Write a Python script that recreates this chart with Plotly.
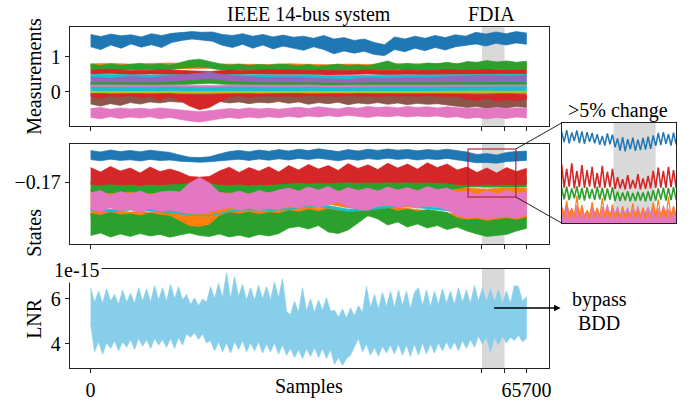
import numpy as np
import plotly.graph_objects as go

W, H = 699, 401
N_SAMPLES = 65700
FDIA = [59000, 62400]
X_TICKS = [0, 59000, 62400, 65700]
X_TICKTEXT = ["0", "", "", "65700"]
ZOOM_X = [54800, 64050]
ZOOM_Y = [-0.1775, -0.1535]
RECT_X = [56900, 64100]

# ---------------- top panel: measurements (upper / lower envelope) ----------------
meas_blue_hi = [1.63,1.57,1.64,1.59,1.62,1.56,1.65,1.60,1.66,1.68,1.71,1.69,1.70,1.63,1.60,1.65,1.58,1.63,1.56,1.61,1.55,1.58,
                1.52,1.60,1.50,1.54,1.46,1.50,1.40,1.34,1.56,1.50,1.58,1.52,1.60,1.54,1.62,1.58,1.69,1.64,1.70,1.65,1.71,1.67]
meas_blue_lo = [1.28,1.20,1.33,1.24,1.36,1.27,1.34,1.26,1.40,1.46,1.50,1.48,1.44,1.32,1.26,1.35,1.24,1.33,1.22,1.30,1.24,1.18,
                1.28,1.20,1.08,1.16,1.10,1.15,1.06,1.03,1.20,1.14,1.24,1.17,1.26,1.19,1.28,1.32,1.36,1.30,1.38,1.33,1.39,1.35]
meas_orange_hi = [0.80,0.81,0.79,0.80,0.82,0.80,0.79,0.80,0.79,0.78,0.80,0.79,0.77,0.79,0.78,0.80,0.79,0.80,0.81,0.80,0.79,0.80,0.80]
meas_orange_lo = [0.68,0.69,0.67,0.68,0.68,0.66,0.68,0.69,0.67,0.68,0.66,0.67,0.66,0.67,0.68,0.67,0.68,0.67,0.68,0.69,0.68,0.67,0.68]
meas_green_hi = [0.79,0.75,0.80,0.76,0.78, 0.81,0.77,0.80,0.76,0.84, 0.90,0.93,0.86,0.80,0.76, 0.79,0.75,0.78,0.76,0.79,
                 0.77,0.74,0.78,0.73,0.76, 0.79,0.75,0.77,0.74,0.80, 0.88,0.78,0.81,0.77,0.82, 0.80,0.84,0.79,0.86,0.84,
                 0.89,0.85,0.88,0.84,0.87]
meas_green_lo = [0.63,0.60,0.64,0.61,0.63, 0.62,0.64,0.61,0.63,0.66, 0.69,0.71,0.68,0.63,0.61, 0.63,0.60,0.62,0.61,0.63,
                 0.61,0.59,0.62,0.58,0.61, 0.60,0.62,0.59,0.61,0.62, 0.60,0.63,0.61,0.62,0.60, 0.63,0.61,0.64,0.62,0.64,
                 0.63,0.65,0.62,0.64,0.63]
meas_red_hi = [0.62,0.64,0.61,0.62,0.63,0.60,0.58,0.62,0.61,0.63,0.62,0.61,0.60,0.61,0.62,0.60,0.62,0.61,0.63,0.62,0.64,0.62,0.63]
meas_red_lo = [0.50,0.52,0.49,0.51,0.49,0.48,0.46,0.49,0.51,0.50,0.49,0.50,0.48,0.49,0.51,0.49,0.50,0.49,0.50,0.51,0.50,0.51,0.50]
meas_cyan_hi = [0.50,0.49,0.50,0.48,0.49,0.48,0.47,0.49,0.48,0.49,0.48,0.49,0.46,0.47,0.48,0.49,0.48,0.48,0.49,0.50,0.49,0.50,0.50]
meas_cyan_lo = [0.38,0.37,0.38,0.36,0.37,0.36,0.35,0.37,0.36,0.37,0.36,0.37,0.34,0.35,0.36,0.37,0.36,0.36,0.37,0.38,0.37,0.38,0.38]
meas_purple_hi = [0.42,0.39,0.44,0.40,0.45,0.50,0.56,0.46,0.43,0.40,0.42,0.39,0.38,0.35,0.40,0.38,0.41,0.40,0.43,0.46,0.48,0.45,0.47]
meas_purple_lo = [0.22,0.19,0.23,0.20,0.22,0.24,0.28,0.24,0.21,0.23,0.20,0.21,0.18,0.16,0.20,0.18,0.20,0.19,0.21,0.22,0.24,0.21,0.23]
meas_green2_hi = [0.27,0.26,0.27,0.26,0.28,0.33,0.36,0.30,0.27,0.26,0.27,0.26,0.25,0.25,0.26,0.26,0.27,0.26,0.27,0.27,0.28,0.27,0.27]
meas_green2_lo = [0.19,0.18,0.19,0.18,0.19,0.22,0.25,0.21,0.19,0.18,0.19,0.18,0.17,0.17,0.18,0.18,0.19,0.18,0.19,0.19,0.20,0.19,0.19]
meas_pink_hi = [0.20,0.19,0.20,0.19,0.20,0.19,0.18,0.20,0.19,0.20,0.19,0.20,0.18,0.19,0.19,0.20,0.19,0.20,0.19,0.20,0.20,0.19,0.20]
meas_pink_lo = [0.11,0.10,0.11,0.10,0.11,0.10,0.09,0.11,0.10,0.11,0.10,0.11,0.09,0.10,0.10,0.11,0.10,0.11,0.10,0.11,0.11,0.10,0.11]
meas_cyan2_hi = [0.14,0.13,0.14,0.13,0.14,0.13,0.12,0.14,0.13,0.14,0.13,0.14,0.12,0.13,0.13,0.14,0.13,0.14,0.14,0.15,0.15,0.15,0.15]
meas_cyan2_lo = [0.02,0.01,0.02,0.01,0.02,0.01,0.00,0.02,0.01,0.02,0.01,0.02,0.00,0.01,0.01,0.02,0.01,0.02,0.02,0.02,0.02,0.02,0.02]
meas_olive_hi = [0.02,0.01,0.02,0.01,0.02,0.01,0.01,0.02,0.01,0.02,0.01,0.02,0.01,0.01,0.02,0.01,0.02,0.01,0.02,0.03,0.03,0.02,0.03]
meas_olive_lo = [-0.03,-0.03,-0.02,-0.03,-0.03,-0.02,-0.03,-0.03,-0.02,-0.03,-0.03,-0.02,-0.03,-0.03,-0.02,-0.03,-0.03,-0.02,-0.03,-0.03,-0.02,-0.03,-0.03]
meas_gray_hi = [-0.02,-0.03,-0.02,-0.02,-0.03,-0.02,-0.02,-0.03,-0.02,-0.03,-0.02,-0.03,-0.02,-0.03,-0.02,-0.03,-0.02,-0.03,-0.02,-0.03,-0.02,-0.03,-0.02]
meas_gray_lo = [-0.06,-0.06,-0.07,-0.06,-0.08,-0.12,-0.13,-0.09,-0.06,-0.07,-0.06,-0.06,-0.07,-0.06,-0.06,-0.07,-0.06,-0.06,-0.07,-0.06,-0.07,-0.06,-0.06]
meas_brown_hi = [-0.08,-0.09,-0.08,-0.10,-0.08, -0.09,-0.08,-0.10,-0.09,-0.10, -0.11,-0.12,-0.10,-0.09,-0.08, -0.09,-0.08,-0.10,-0.08,-0.09,
                 -0.08,-0.10,-0.08,-0.09,-0.08, -0.09,-0.08,-0.10,-0.08,-0.09, -0.08,-0.09,-0.08,-0.10,-0.09, -0.08,-0.10,-0.09,-0.11,-0.10,
                 -0.12,-0.10,-0.11,-0.10,-0.11]
meas_brown_lo = [-0.34,-0.40,-0.33,-0.38,-0.30, -0.34,-0.28,-0.31,-0.27,-0.29, -0.26,-0.28,-0.30,-0.27,-0.31, -0.28,-0.33,-0.29,-0.31,-0.27,
                 -0.32,-0.28,-0.35,-0.30,-0.33, -0.29,-0.36,-0.31,-0.34,-0.30, -0.35,-0.31,-0.36,-0.32,-0.35, -0.33,-0.38,-0.40,-0.44,-0.41,
                 -0.46,-0.42,-0.45,-0.41,-0.44]
meas_red2_hi = [-0.05,-0.04,-0.06,-0.05,-0.04, -0.05,-0.06,-0.05,-0.04,-0.07, -0.08,-0.09,-0.08,-0.06,-0.05, -0.04,-0.05,-0.06,-0.05,-0.04,
                -0.05,-0.04,-0.06,-0.05,-0.04, -0.05,-0.06,-0.04,-0.05,-0.05, -0.04,-0.06,-0.05,-0.04,-0.05, -0.06,-0.05,-0.04,-0.06,-0.07,
                -0.06,-0.07,-0.05,-0.06,-0.07]
meas_red2_lo = [-0.12,-0.18,-0.11,-0.14,-0.10, -0.16,-0.12,-0.22,-0.13,-0.24, -0.40,-0.50,-0.44,-0.28,-0.14, -0.11,-0.15,-0.12,-0.10,-0.13,
                -0.11,-0.14,-0.10,-0.12,-0.11, -0.13,-0.10,-0.12,-0.11,-0.14, -0.10,-0.12,-0.11,-0.13,-0.10, -0.12,-0.14,-0.12,-0.20,-0.24,
                -0.18,-0.26,-0.22,-0.25,-0.20]
meas_pink2_hi = [-0.47,-0.44,-0.49,-0.45,-0.48, -0.46,-0.49,-0.45,-0.48,-0.50, -0.54,-0.56,-0.53,-0.50,-0.47, -0.49,-0.45,-0.48,-0.46,-0.49,
                 -0.45,-0.43,-0.47,-0.42,-0.45, -0.48,-0.43,-0.46,-0.41,-0.44, -0.42,-0.45,-0.41,-0.44,-0.42, -0.45,-0.42,-0.44,-0.47,-0.45,
                 -0.48,-0.44,-0.47,-0.45,-0.46]
meas_pink2_lo = [-0.72,-0.76,-0.70,-0.75,-0.71, -0.74,-0.70,-0.76,-0.72,-0.78, -0.82,-0.85,-0.80,-0.76,-0.72, -0.75,-0.71,-0.74,-0.70,-0.73,
                 -0.69,-0.72,-0.68,-0.71,-0.67, -0.70,-0.66,-0.69,-0.72,-0.68, -0.70,-0.67,-0.71,-0.68,-0.70, -0.68,-0.72,-0.70,-0.75,-0.72,
                 -0.76,-0.72,-0.75,-0.71,-0.74]

# ---------------- middle panel: states ----------------
st_blue_hi = [-0.1543,-0.1550,-0.1540,-0.1548,-0.1542, -0.1549,-0.1541,-0.1547,-0.1552,-0.1565, -0.1576,-0.1578,-0.1574,-0.1560,-0.1548,
              -0.1542,-0.1549,-0.1540,-0.1546,-0.1538, -0.1545,-0.1536,-0.1543,-0.1534,-0.1542, -0.1548,-0.1538,-0.1545,-0.1536,-0.1542,
              -0.1535,-0.1541,-0.1537,-0.1544,-0.1538, -0.1542,-0.1536,-0.1544,-0.1550,-0.1562, -0.1558,-0.1565,-0.1552,-0.1548,-0.1545]
st_blue_lo = [-0.1588,-0.1594,-0.1586,-0.1592,-0.1589, -0.1595,-0.1587,-0.1593,-0.1590,-0.1596, -0.1600,-0.1601,-0.1599,-0.1595,-0.1590,
              -0.1586,-0.1592,-0.1585,-0.1591,-0.1584, -0.1590,-0.1582,-0.1588,-0.1581,-0.1589, -0.1594,-0.1585,-0.1591,-0.1583,-0.1588,
              -0.1581,-0.1587,-0.1583,-0.1590,-0.1584, -0.1588,-0.1582,-0.1590,-0.1596,-0.1604, -0.1602,-0.1606,-0.1598,-0.1594,-0.1592]
st_red_hi = [-0.1628,-0.1650,-0.1622,-0.1645,-0.1630, -0.1655,-0.1625,-0.1648,-0.1635,-0.1650, -0.1672,-0.1676,-0.1672,-0.1645,-0.1626,
             -0.1652,-0.1628,-0.1646,-0.1624,-0.1650, -0.1618,-0.1640,-0.1612,-0.1635,-0.1618, -0.1642,-0.1608,-0.1632,-0.1614,-0.1638,
             -0.1606,-0.1630,-0.1610,-0.1636,-0.1604, -0.1628,-0.1610,-0.1640,-0.1625,-0.1652, -0.1630,-0.1655,-0.1628,-0.1648,-0.1632]
st_red_lo = [-0.1712,-0.1716,-0.1710,-0.1714,-0.1712, -0.1716,-0.1711,-0.1714,-0.1710,-0.1708, -0.1704,-0.1706,-0.1705,-0.1712,-0.1714,
             -0.1711,-0.1715,-0.1712,-0.1714,-0.1710, -0.1705,-0.1702,-0.1706,-0.1703,-0.1705, -0.1702,-0.1700,-0.1704,-0.1701,-0.1703,
             -0.1700,-0.1702,-0.1700,-0.1703,-0.1701, -0.1703,-0.1705,-0.1712,-0.1714,-0.1716, -0.1713,-0.1715,-0.1712,-0.1714,-0.1712]
st_green_hi = [-0.1700,-0.1700,-0.1702,-0.1700,-0.1700,-0.1700,-0.1700,-0.1700,-0.1700,-0.1698,-0.1700,-0.1690,-0.1685,-0.1690,-0.1685,-0.1688,-0.1685,-0.1688,-0.1685,-0.1688,-0.1690,-0.1688,-0.1688]
st_green_lo = [-0.1750,-0.1755,-0.1748,-0.1756,-0.1750,-0.1748,-0.1748,-0.1752,-0.1755,-0.1750,-0.1753,-0.1745,-0.1740,-0.1746,-0.1740,-0.1743,-0.1738,-0.1742,-0.1740,-0.1725,-0.1722,-0.1725,-0.1725]
st_orange_hi = [-0.1735,-0.1728,-0.1738,-0.1732,-0.1740,-0.1750,-0.1755,-0.1740,-0.1732,-0.1728,-0.1734,-0.1718,-0.1714,-0.1726,-0.1718,-0.1714,-0.1720,-0.1718,-0.1714,-0.1730,-0.1736,-0.1728,-0.1730]
st_orange_lo = [-0.1820,-0.1830,-0.1825,-0.1830,-0.1840,-0.1860,-0.1865,-0.1840,-0.1830,-0.1825,-0.1830,-0.1815,-0.1810,-0.1830,-0.1820,-0.1815,-0.1825,-0.1820,-0.1815,-0.1825,-0.1830,-0.1828,-0.1825]
st_pink_hi = [-0.1755,-0.1742,-0.1768,-0.1748,-0.1760, -0.1745,-0.1765,-0.1750,-0.1745,-0.1750, -0.1705,-0.1678,-0.1705,-0.1752,-0.1760,
              -0.1745,-0.1762,-0.1742,-0.1755,-0.1740, -0.1730,-0.1745,-0.1725,-0.1740,-0.1722, -0.1748,-0.1728,-0.1742,-0.1730,-0.1745,
              -0.1725,-0.1740,-0.1728,-0.1745,-0.1722, -0.1738,-0.1730,-0.1752,-0.1748,-0.1762, -0.1745,-0.1760,-0.1742,-0.1758,-0.1750]
st_pink_lo = [-0.1835,-0.1850,-0.1828,-0.1845,-0.1838, -0.1852,-0.1832,-0.1848,-0.1840,-0.1850, -0.1858,-0.1860,-0.1852,-0.1838,-0.1826,
              -0.1842,-0.1830,-0.1845,-0.1832,-0.1838, -0.1820,-0.1832,-0.1815,-0.1828,-0.1812, -0.1800,-0.1825,-0.1835,-0.1842,-0.1820,
              -0.1812,-0.1828,-0.1815,-0.1830,-0.1818, -0.1826,-0.1840,-0.1868,-0.1880,-0.1875, -0.1885,-0.1878,-0.1872,-0.1880,-0.1865]
st_cyan_hi = [-0.1830,-0.1838,-0.1828,-0.1835,-0.1840,-0.1855,-0.1858,-0.1836,-0.1828,-0.1832,-0.1826,-0.1812,-0.1818,-0.1836,-0.1826,-0.1818,-0.1812,-0.1822,-0.1832,-0.1846,-0.1856,-0.1850,-0.1846]
st_cyan_lo = [-0.1842,-0.1850,-0.1840,-0.1847,-0.1852,-0.1867,-0.1870,-0.1848,-0.1840,-0.1844,-0.1838,-0.1824,-0.1830,-0.1848,-0.1838,-0.1830,-0.1824,-0.1834,-0.1844,-0.1858,-0.1868,-0.1862,-0.1858]
st_orange2_hi = [-0.1840,-0.1848,-0.1838,-0.1845,-0.1850, -0.1846,-0.1852,-0.1845,-0.1850,-0.1858, -0.1862,-0.1865,-0.1860,-0.1848,-0.1838,
                 -0.1842,-0.1836,-0.1840,-0.1835,-0.1842, -0.1822,-0.1828,-0.1820,-0.1832,-0.1828, -0.1836,-0.1846,-0.1838,-0.1836,-0.1828,
                 -0.1822,-0.1826,-0.1832,-0.1836,-0.1842, -0.1850,-0.1856,-0.1862,-0.1866,-0.1864, -0.1860,-0.1862,-0.1858,-0.1856,-0.1854]
st_orange2_lo = [-0.1875,-0.1885,-0.1872,-0.1880,-0.1878, -0.1884,-0.1874,-0.1882,-0.1890,-0.1915, -0.1925,-0.1928,-0.1920,-0.1885,-0.1872,
                 -0.1878,-0.1870,-0.1876,-0.1868,-0.1874, -0.1858,-0.1866,-0.1862,-0.1870,-0.1865, -0.1880,-0.1885,-0.1875,-0.1872,-0.1866,
                 -0.1860,-0.1865,-0.1870,-0.1874,-0.1880, -0.1888,-0.1894,-0.1900,-0.1902,-0.1898, -0.1896,-0.1900,-0.1894,-0.1892,-0.1890]
st_green2_hi = [-0.1858,-0.1866,-0.1852,-0.1864,-0.1860, -0.1868,-0.1855,-0.1865,-0.1870,-0.1895, -0.1922,-0.1925,-0.1915,-0.1870,-0.1852,
                -0.1860,-0.1850,-0.1862,-0.1852,-0.1858, -0.1842,-0.1850,-0.1838,-0.1848,-0.1835, -0.1845,-0.1840,-0.1848,-0.1842,-0.1838,
                -0.1830,-0.1845,-0.1835,-0.1848,-0.1838, -0.1845,-0.1852,-0.1880,-0.1890,-0.1885, -0.1895,-0.1888,-0.1882,-0.1890,-0.1878]
st_green2_lo = [-0.1968,-0.1955,-0.1975,-0.1960,-0.1972, -0.1958,-0.1970,-0.1962,-0.1976,-0.1965, -0.1955,-0.1968,-0.1972,-0.1960,-0.1975,
                -0.1966,-0.1978,-0.1962,-0.1970,-0.1958, -0.1930,-0.1922,-0.1935,-0.1918,-0.1950, -0.1958,-0.1940,-0.1905,-0.1868,-0.1885,
                -0.1915,-0.1900,-0.1925,-0.1910,-0.1930, -0.1918,-0.1938,-0.1925,-0.1945,-0.1960, -0.1972,-0.1968,-0.1962,-0.1945,-0.1932]

# ---------------- inset (zoomed states) ----------------
in_blue = [-0.1556,-0.1581,-0.1552,-0.1584,-0.1558,-0.1578,-0.1553,-0.1583,-0.1555,-0.1585,-0.1557,-0.1580,-0.1559,-0.1584,-0.1562,-0.1587,-0.1566,-0.1589,-0.1560,-0.1586,-0.1563,
           -0.1593,-0.1572,-0.1601,-0.1569,-0.1603,-0.1574,-0.1598,-0.1570,-0.1602,-0.1575,-0.1600,-0.1571,-0.1599,-0.1568,-0.1597,-0.1565,-0.1590,
           -0.1559,-0.1588,-0.1557,-0.1585,-0.1562,-0.1589,-0.1558,-0.1586]
in_red = [-0.1634,-0.1690,-0.1645,-0.1688,-0.1632,-0.1692,-0.1650,-0.1689,-0.1636,-0.1691,-0.1648,-0.1688,-0.1640,-0.1692,-0.1655,-0.1690,-0.1638,-0.1691,-0.1652,-0.1689,-0.1645,
          -0.1693,-0.1665,-0.1692,-0.1670,-0.1694,-0.1660,-0.1693,-0.1672,-0.1692,-0.1658,-0.1694,-0.1668,-0.1693,-0.1662,-0.1692,-0.1650,-0.1691,
          -0.1642,-0.1690,-0.1650,-0.1691,-0.1640,-0.1689,-0.1648,-0.1690]
in_green = [-0.1690,-0.1718,-0.1688,-0.1720,-0.1692,-0.1716,-0.1687,-0.1719,-0.1691,-0.1721,-0.1689,-0.1717,-0.1693,-0.1720,-0.1688,-0.1718,-0.1690,-0.1721,-0.1692,-0.1719,-0.1689,
            -0.1722,-0.1700,-0.1722,-0.1702,-0.1721,-0.1699,-0.1723,-0.1703,-0.1722,-0.1700,-0.1721,-0.1702,-0.1723,-0.1699,-0.1722,-0.1696,-0.1721,
            -0.1692,-0.1719,-0.1690,-0.1721,-0.1691,-0.1720,-0.1689,-0.1719]
in_orange = [-0.1735,-0.1763,-0.1722,-0.1765,-0.1740,-0.1762,-0.1710,-0.1764,-0.1732,-0.1763,-0.1745,-0.1765,-0.1725,-0.1762,-0.1738,-0.1764,-0.1715,-0.1763,-0.1742,-0.1765,-0.1730,
             -0.1764,-0.1748,-0.1763,-0.1735,-0.1765,-0.1750,-0.1762,-0.1728,-0.1764,-0.1745,-0.1763,-0.1738,-0.1765,-0.1752,-0.1762,-0.1726,-0.1764,
             -0.1718,-0.1763,-0.1740,-0.1765,-0.1712,-0.1763,-0.1735,-0.1764]
in_pink = [-0.1735,-0.1752,-0.1728,-0.1750,-0.1740,-0.1755,-0.1732,-0.1748,-0.1738,-0.1756,-0.1745,-0.1752,-0.1733,-0.1750,-0.1742,-0.1755,-0.1736,-0.1750,-0.1730,-0.1753,-0.1740,
           -0.1752,-0.1735,-0.1756,-0.1745,-0.1750,-0.1738,-0.1754,-0.1742,-0.1751,-0.1734,-0.1755,-0.1740,-0.1750,-0.1736,-0.1753,-0.1731,-0.1752,
           -0.1739,-0.1755,-0.1733,-0.1750,-0.1741,-0.1754,-0.1735,-0.1752]
IN_FLOOR = -0.1780

# ---------------- bottom panel: LNR (x1e-15) ----------------
lnr_hi = [6.50,5.85,6.35,5.80,6.45,5.90,6.20,5.75,6.40,5.85,
          6.25,5.80,6.50,5.90,6.45,5.85,6.60,5.95,6.50,5.90,
          6.65,6.00,6.55,5.95,6.20,5.75,6.05,5.70,6.00,5.85,
          6.55,6.00,6.70,6.05,7.15,6.00,7.00,6.10,6.65,5.95,
          6.50,5.95,6.60,6.00,6.55,5.95,6.75,6.05,6.90,5.45,
          5.30,5.90,5.40,6.50,5.45,6.00,5.40,5.95,5.50,6.05,
          5.45,5.50,5.20,5.55,5.15,5.60,5.25,5.70,5.40,6.55,
          5.60,6.20,5.55,6.30,5.65,6.35,5.60,6.40,5.70,6.35,
          5.55,6.30,6.50,5.70,6.40,5.65,6.35,5.75,6.45,5.80,
          6.35,5.75,6.50,5.85,6.40,5.80,6.60,5.90,6.50,5.85,
          6.45,5.85,6.40,5.80,6.35,5.80,6.60,6.55,5.90,6.10]
lnr_lo = [4.90,3.65,4.10,3.55,4.05,3.80,4.15,3.70,4.10,3.85,
          4.20,3.75,4.25,3.90,4.20,3.80,4.25,3.95,4.20,3.85,
          4.25,3.80,4.30,3.95,4.45,4.30,4.50,4.20,4.45,4.05,
          4.15,3.70,4.10,3.65,4.05,3.60,4.10,3.75,4.15,3.65,
          4.05,3.70,4.10,3.60,4.00,3.65,4.05,3.55,3.95,3.50,
          3.80,3.40,3.75,3.35,3.80,3.45,3.85,3.40,3.80,3.35,
          3.75,3.10,3.40,3.05,3.35,3.50,3.90,4.25,3.65,4.00,
          3.50,3.85,3.45,3.90,3.60,3.95,3.55,4.00,3.50,3.95,
          3.45,4.00,3.50,4.05,3.55,4.00,3.60,4.05,3.70,4.10,
          3.75,4.10,3.70,4.15,3.80,4.20,3.85,4.35,4.00,4.30,
          3.65,4.30,3.95,4.35,4.05,4.30,4.15,4.40,4.10,4.25]

C = dict(blue="#1f77b4", orange="#ff7f0e", green="#2ca02c", red="#d62728", purple="#9467bd",
         brown="#8c564b", pink="#e377c2", gray="#7f7f7f", olive="#bcbd22", cyan="#17becf")
SKY = "#87ceeb"
FONT = "Liberation Serif"
FS = 20

fig = go.Figure()


def band(hi, lo, color, ax, xr=(0, N_SAMPLES)):
    xs = list(np.linspace(xr[0], xr[1], len(hi)))
    fig.add_trace(go.Scatter(x=xs + xs[::-1], y=list(hi) + list(lo)[::-1], mode="lines",
                             fill="toself", fillcolor=color, line=dict(color=color, width=0.7),
                             hoverinfo="skip", showlegend=False, xaxis="x" + ax, yaxis="y" + ax))


def zig(vals, color, ax, width, xr=ZOOM_X):
    xs = np.linspace(xr[0], xr[1], len(vals))
    fig.add_trace(go.Scatter(x=xs, y=vals, mode="lines", line=dict(color=color, width=width),
                             hoverinfo="skip", showlegend=False, xaxis="x" + ax, yaxis="y" + ax))


# top panel
for hi, lo, col in [(meas_orange_hi, meas_orange_lo, "orange"), (meas_green_hi, meas_green_lo, "green"),
                    (meas_red_hi, meas_red_lo, "red"), (meas_cyan_hi, meas_cyan_lo, "cyan"),
                    (meas_purple_hi, meas_purple_lo, "purple"), (meas_green2_hi, meas_green2_lo, "green"),
                    (meas_pink_hi, meas_pink_lo, "pink"), (meas_cyan2_hi, meas_cyan2_lo, "cyan"),
                    (meas_gray_hi, meas_gray_lo, "gray"), (meas_olive_hi, meas_olive_lo, "olive"),
                    (meas_brown_hi, meas_brown_lo, "brown"), (meas_red2_hi, meas_red2_lo, "red"),
                    (meas_pink2_hi, meas_pink2_lo, "pink"), (meas_blue_hi, meas_blue_lo, "blue")]:
    band(hi, lo, C[col], "")

# middle panel
for hi, lo, col in [(st_blue_hi, st_blue_lo, "blue"), (st_orange2_hi, st_orange2_lo, "orange"),
                    (st_green2_hi, st_green2_lo, "green"), (st_cyan_hi, st_cyan_lo, "cyan"),
                    (st_orange_hi, st_orange_lo, "orange"), (st_green_hi, st_green_lo, "green"),
                    (st_red_hi, st_red_lo, "red"), (st_pink_hi, st_pink_lo, "pink")]:
    band(hi, lo, C[col], "2")

# bottom panel
band(lnr_hi, lnr_lo, SKY, "3")

# inset
band(in_pink, [IN_FLOOR] * len(in_pink), C["pink"], "4", ZOOM_X)
zig(in_orange, C["orange"], "4", 1.2)
zig(in_green, C["green"], "4", 1.6)
zig(in_red, C["red"], "4", 1.6)
zig(in_blue, C["blue"], "4", 1.5)

XR = [-3150, 69050]


def px_x(p):
    return p / W


def px_y(p):
    return 1 - p / H


LINE = "#222222"
TF = dict(family=FONT, size=FS, color="black")
base_x = dict(range=XR, showline=True, mirror=True, linecolor=LINE, linewidth=1, ticks="outside",
              ticklen=4, tickcolor=LINE, tickvals=X_TICKS, ticktext=X_TICKTEXT, showgrid=False,
              zeroline=False, tickfont=TF)
base_y = dict(showline=True, mirror=True, linecolor=LINE, linewidth=1, ticks="outside", ticklen=4,
              tickcolor=LINE, showgrid=False, zeroline=False, tickfont=TF)

dom_x = [px_x(70), px_x(551)]
fig.update_layout(
    width=W, height=H, margin=dict(l=0, r=0, t=0, b=0), paper_bgcolor="white", plot_bgcolor="white",
    font=TF, showlegend=False,
    xaxis=dict(base_x, domain=dom_x, anchor="y", showticklabels=False),
    yaxis=dict(base_y, domain=[px_y(126), px_y(27)], anchor="x", range=[-0.963, 1.84], tickvals=[0, 1]),
    xaxis2=dict(base_x, domain=dom_x, anchor="y2", showticklabels=False),
    yaxis2=dict(base_y, domain=[px_y(244), px_y(144)], anchor="x2", range=[-0.201, -0.151],
                tickvals=[-0.17], ticktext=["\u22120.17"]),
    xaxis3=dict(base_x, domain=dom_x, anchor="y3"),
    yaxis3=dict(base_y, domain=[px_y(368), px_y(269)], anchor="x3", range=[2.933, 7.333], tickvals=[4, 6]),
    xaxis4=dict(domain=[px_x(564), px_x(679)], anchor="y4", range=ZOOM_X, showline=True, mirror=True,
                linecolor=LINE, linewidth=1, ticks="", showticklabels=False, showgrid=False, zeroline=False),
    yaxis4=dict(domain=[px_y(223), px_y(123)], anchor="x4", range=ZOOM_Y, showline=True, mirror=True,
                linecolor=LINE, linewidth=1, ticks="", showticklabels=False, showgrid=False, zeroline=False),
)

shapes = []
for ax in ["", "2", "3", "4"]:
    shapes.append(dict(type="rect", xref="x" + ax, yref=("y" + ax) + " domain", x0=FDIA[0], x1=FDIA[1],
                       y0=0, y1=1, fillcolor="#d9d9d9", line=dict(width=0), layer="below"))
shapes.append(dict(type="rect", xref="x2", yref="y2", x0=RECT_X[0], x1=RECT_X[1], y0=ZOOM_Y[0], y1=ZOOM_Y[1],
                   line=dict(color="rgba(175,25,50,0.75)", width=1.5), fillcolor="rgba(0,0,0,0)", layer="above"))
shapes.append(dict(type="line", xref="paper", yref="paper", x0=px_x(518), y0=px_y(149), x1=px_x(564), y1=px_y(123),
                   line=dict(color="#222", width=1)))
shapes.append(dict(type="line", xref="paper", yref="paper", x0=px_x(518), y0=px_y(197), x1=px_x(564), y1=px_y(223),
                   line=dict(color="#222", width=1)))
fig.update_layout(shapes=shapes)


def txt(s, x, y, angle=0, bg=None):
    d = dict(text=s, x=px_x(x), y=px_y(y), xref="paper", yref="paper", showarrow=False,
             xanchor="center", yanchor="middle", textangle=angle, font=TF)
    if bg:
        d["bgcolor"] = bg
    return d


ann = [
    txt("IEEE 14-bus system", 310, 14),
    txt("FDIA", 494, 14),
    txt("&gt;5% change", 621, 110),
    txt("bypass", 602, 299),
    txt("BDD", 602, 323),
    txt("Samples", 310, 386),
    txt("Measurements", 34, 76, -90),
    txt("States", 34, 233, -90),
    txt("LNR", 34, 318, -90),
    txt("1e-15", 77, 270, bg="white"),
    dict(text="", x=px_x(563), y=px_y(308), xref="paper", yref="paper", showarrow=True, ax=-68, ay=0,
         arrowhead=2, arrowsize=1, arrowwidth=1.3, arrowcolor="black"),
]
fig.update_layout(annotations=ann)

fig.write_html("out.html")
